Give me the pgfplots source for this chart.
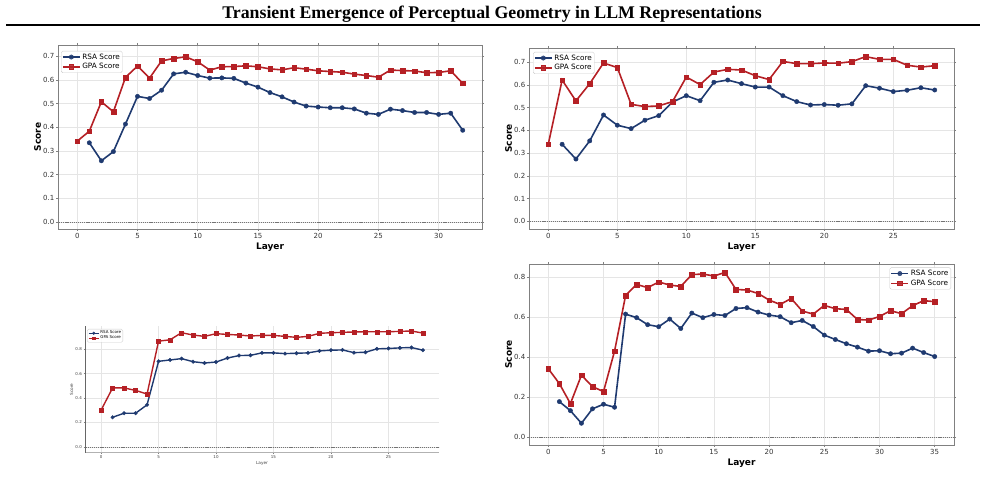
\documentclass[border=0pt]{standalone}
\usepackage{pgfplots}
\pgfplotsset{compat=1.18}
\usepackage{fontspec}
\setmainfont{DejaVu Sans}
\newfontfamily\titlefont{Liberation Serif}

\definecolor{rsacol}{HTML}{1F3A70}
\definecolor{gpacol}{HTML}{B52025}
\definecolor{spine}{HTML}{808080}

\pgfplotsset{
  panel/.style={
    scale only axis, anchor=south west,
    axis line style={draw=spine, line width=0.8pt},
    grid=major, grid style={draw=black!10, line width=0.5pt},
    tick align=outside, major tick length=2pt,
    tick style={draw=spine, line width=0.5pt},
    ticklabel style={font=\fontsize{7}{8}\selectfont, text=black!80},
    /pgf/number format/assume math mode=true,
    xticklabel style={inner sep=2.5pt},
    yticklabel style={inner sep=1.5pt, /pgf/number format/.cd, fixed, fixed zerofill, precision=1},
    xlabel={Layer}, ylabel={Score},
    xlabel style={font=\fontsize{9}{10}\selectfont\bfseries, inner sep=1.2pt},
    ylabel style={font=\fontsize{9}{10}\selectfont\bfseries, inner sep=0.5pt},
    legend cell align=left,
    legend style={draw=black!20, rounded corners=1.5pt, fill=white, fill opacity=0.85,
      text opacity=1, font=\fontsize{7.3}{8}\selectfont, inner sep=0.8pt,
      row sep=-0.3pt, nodes={inner sep=1.6pt}},
  },
  rsa/.style={rsacol, line width=1.6pt, mark=*, mark size=2.2pt,
    mark options={solid, fill=rsacol, draw=rsacol, line width=0.4pt}},
  gpa/.style={gpacol, line width=1.6pt, mark=square*, mark size=2.3pt,
    mark options={solid, fill=gpacol, draw=gpacol, line width=0.4pt}},
  zeroline/.style={forget plot, black!55, line width=0.45pt, dash pattern=on 1.2pt off 0.9pt},
}

\begin{document}
\begin{tikzpicture}
\useasboundingbox (0pt,0pt) rectangle (985pt,500pt);

% page title and rule
\node[anchor=base, inner sep=0pt, font=\titlefont\bfseries\fontsize{17.8}{20}\selectfont]
  at (492pt,481pt) {Transient Emergence of Perceptual Geometry in LLM Representations};
\draw[line width=2pt] (6pt,475pt) -- (980pt,475pt);

% ---------------- top left ----------------
\begin{axis}[panel, at={(58pt,271pt)}, width=424pt, height=184pt,
  xmin=-1.6, xmax=33.6, ymin=-0.03, ymax=0.747,
  xtick={0,5,...,30}, ytick={0,0.1,...,0.7},
  legend style={at={(0,1)}, anchor=north west, xshift=3pt, yshift=-6pt}]
\addplot[zeroline] coordinates {(-5,0) (40,0)};
\addplot[rsa] coordinates {
 (1,0.334) (2,0.258) (3,0.297) (4,0.413) (5,0.530) (6,0.521) (7,0.556) (8,0.625)
 (9,0.632) (10,0.618) (11,0.607) (12,0.608) (13,0.606) (14,0.586) (15,0.569)
 (16,0.546) (17,0.528) (18,0.506) (19,0.489) (20,0.485) (21,0.482) (22,0.482)
 (23,0.477) (24,0.459) (25,0.454) (26,0.476) (27,0.470) (28,0.462) (29,0.462)
 (30,0.454) (31,0.459) (32,0.387)};
\addlegendentry{RSA Score}
\addplot[gpa] coordinates {
 (0,0.341) (1,0.383) (2,0.507) (3,0.465) (4,0.610) (5,0.658) (6,0.607) (7,0.680)
 (8,0.690) (9,0.697) (10,0.676) (11,0.641) (12,0.655) (13,0.656) (14,0.659)
 (15,0.655) (16,0.646) (17,0.642) (18,0.651) (19,0.645) (20,0.638) (21,0.635)
 (22,0.632) (23,0.624) (24,0.618) (25,0.611) (26,0.641) (27,0.639) (28,0.637)
 (29,0.630) (30,0.631) (31,0.638) (32,0.585)};
\addlegendentry{GPA Score}
\end{axis}

% ---------------- top right ----------------
\begin{axis}[panel, at={(529pt,271pt)}, width=425pt, height=181pt,
  xmin=-1.4, xmax=29.4, ymin=-0.034, ymax=0.763,
  xtick={0,5,...,25}, ytick={0,0.1,...,0.7},
  legend style={at={(0,1)}, anchor=north west, xshift=4pt, yshift=-4pt}]
\addplot[zeroline] coordinates {(-5,0) (40,0)};
\addplot[rsa] coordinates {
 (1,0.339) (2,0.274) (3,0.354) (4,0.468) (5,0.423) (6,0.408) (7,0.445) (8,0.465)
 (9,0.525) (10,0.553) (11,0.531) (12,0.612) (13,0.622) (14,0.606) (15,0.591)
 (16,0.591) (17,0.553) (18,0.527) (19,0.512) (20,0.514) (21,0.511) (22,0.517)
 (23,0.597) (24,0.586) (25,0.571) (26,0.577) (27,0.588) (28,0.578)};
\addlegendentry{RSA Score}
\addplot[gpa] coordinates {
 (0,0.340) (1,0.622) (2,0.530) (3,0.606) (4,0.697) (5,0.677) (6,0.515) (7,0.505)
 (8,0.508) (9,0.527) (10,0.635) (11,0.602) (12,0.657) (13,0.669) (14,0.666)
 (15,0.641) (16,0.624) (17,0.704) (18,0.694) (19,0.694) (20,0.697) (21,0.696)
 (22,0.703) (23,0.725) (24,0.713) (25,0.713) (26,0.687) (27,0.679) (28,0.685)};
\addlegendentry{GPA Score}
\end{axis}

% ---------------- bottom left (compact panel) ----------------
\begin{axis}[panel, at={(85pt,47.3pt)}, width=354pt, height=126.7pt,
  axis lines*=left,
  x axis line style={draw=black!30, line width=1.5pt},
  y axis line style={draw=black!60, line width=0.6pt},
  tick style={draw=black!50, line width=0.4pt}, major tick length=1.5pt,
  ticklabel style={font=\fontsize{4}{4.5}\selectfont, text=black!75},
  xticklabel style={inner sep=1.5pt},
  xlabel style={font=\fontsize{4.2}{5}\selectfont\mdseries, text=black!75, inner sep=0.5pt},
  ylabel style={font=\fontsize{4.2}{5}\selectfont\mdseries, text=black!75},
  xmin=-1.4, xmax=29.4, ymin=-0.047, ymax=0.99,
  xtick={0,5,...,25}, ytick={0,0.2,...,0.8},
  legend style={at={(0,1)}, anchor=north west, xshift=2pt, yshift=-3pt,
    font=\fontsize{4}{4.5}\selectfont, row sep=-1.5pt, nodes={inner sep=1pt}},
  legend image code/.code={\draw[#1] (0pt,0pt) -- (10pt,0pt);
    \draw[#1, mark size=1.3pt] plot coordinates {(5pt,0pt)};}]
\addplot[zeroline] coordinates {(-5,0) (40,0)};
\addplot[rsa, line width=1.4pt, mark size=1.8pt] coordinates {
 (1,0.243) (2,0.276) (3,0.276) (4,0.345) (5,0.701) (6,0.712) (7,0.723) (8,0.698)
 (9,0.687) (10,0.695) (11,0.728) (12,0.748) (13,0.750) (14,0.770) (15,0.770)
 (16,0.764) (17,0.767) (18,0.770) (19,0.786) (20,0.792) (21,0.794) (22,0.772)
 (23,0.775) (24,0.803) (25,0.806) (26,0.811) (27,0.814) (28,0.792)};
\addlegendentry{RSA Score}
\addplot[gpa, line width=1.4pt, mark size=2pt] coordinates {
 (0,0.301) (1,0.483) (2,0.483) (3,0.463) (4,0.433) (5,0.866) (6,0.877) (7,0.935)
 (8,0.916) (9,0.905) (10,0.927) (11,0.921) (12,0.916) (13,0.908) (14,0.913)
 (15,0.913) (16,0.905) (17,0.897) (18,0.905) (19,0.930) (20,0.935) (21,0.938)
 (22,0.941) (23,0.943) (24,0.943) (25,0.943) (26,0.946) (27,0.949) (28,0.932)};
\addlegendentry{GPA Score}
\end{axis}

% ---------------- bottom right ----------------
\begin{axis}[panel, at={(529pt,55pt)}, width=425pt, height=181pt,
  xmin=-1.75, xmax=36.75, ymin=-0.0385, ymax=0.865,
  xtick={0,5,...,35}, ytick={0,0.2,...,0.8},
  legend style={at={(1,1)}, anchor=north east, xshift=-3pt, yshift=-3.5pt}]
\addplot[zeroline] coordinates {(-5,0) (40,0)};
\addplot[rsa] coordinates {
 (1,0.178) (2,0.133) (3,0.070) (4,0.142) (5,0.165) (6,0.150) (7,0.615) (8,0.597)
 (9,0.562) (10,0.552) (11,0.590) (12,0.543) (13,0.620) (14,0.597) (15,0.613)
 (16,0.608) (17,0.643) (18,0.647) (19,0.625) (20,0.610) (21,0.602) (22,0.572)
 (23,0.583) (24,0.553) (25,0.510) (26,0.488) (27,0.467) (28,0.450) (29,0.430)
 (30,0.432) (31,0.417) (32,0.420) (33,0.445) (34,0.423) (35,0.403)};
\addlegendentry{RSA Score}
\addplot[gpa] coordinates {
 (0,0.342) (1,0.268) (2,0.168) (3,0.310) (4,0.253) (5,0.228) (6,0.430) (7,0.708)
 (8,0.763) (9,0.747) (10,0.775) (11,0.760) (12,0.753) (13,0.812) (14,0.815)
 (15,0.805) (16,0.823) (17,0.738) (18,0.735) (19,0.718) (20,0.685) (21,0.663)
 (22,0.693) (23,0.630) (24,0.615) (25,0.658) (26,0.642) (27,0.638) (28,0.588)
 (29,0.585) (30,0.603) (31,0.632) (32,0.617) (33,0.657) (34,0.682) (35,0.677)};
\addlegendentry{GPA Score}
\end{axis}
\end{tikzpicture}
\end{document}
